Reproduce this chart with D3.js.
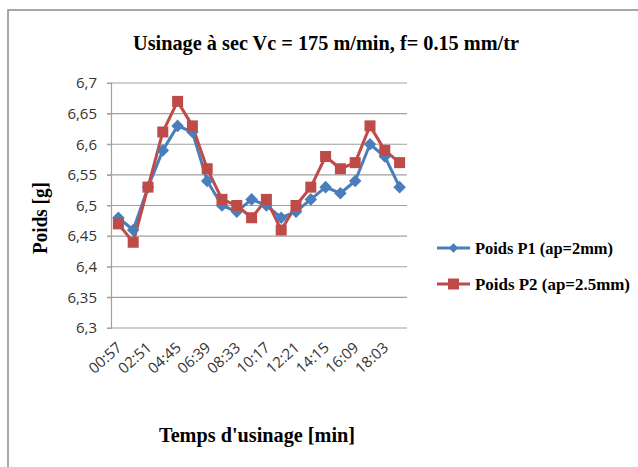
<!DOCTYPE html>
<html><head><meta charset="utf-8">
<script src="https://cdn.jsdelivr.net/npm/d3@7"></script>
<style>body{margin:0;background:#fff}svg{display:block}</style>
</head><body>
<script>
const categories = ["00:57","01:54","02:51","03:48","04:45","05:42","06:39","07:36","08:33","09:25",
  "10:17","11:19","12:21","13:18","14:15","15:12","16:09","17:06","18:03","19:00"];
const shownLabels = ["00:57","02:51","04:45","06:39","08:33","10:17","12:21","14:15","16:09","18:03"];
const p1 = [6.48,6.46,6.53,6.59,6.63,6.62,6.54,6.50,6.49,6.51,6.50,6.48,6.49,6.51,6.53,6.52,6.54,6.60,6.58,6.53];
const p2 = [6.47,6.44,6.53,6.62,6.67,6.63,6.56,6.51,6.50,6.48,6.51,6.46,6.50,6.53,6.58,6.56,6.57,6.63,6.59,6.57];
const yTicks = [6.3,6.35,6.4,6.45,6.5,6.55,6.6,6.65,6.7];
const seriesNames = ["Poids P1 (ap=2mm)","Poids P2 (ap=2.5mm)"];
const colors = ["#4A7EBB","#BE4B48"];

const W = 638, H = 467;
const svg = d3.select("body").append("svg").attr("width", W).attr("height", H);
svg.append("rect").attr("x",8).attr("y",10).attr("width",700).attr("height",600)
  .attr("fill","#fff").attr("stroke","#8c8c8c").attr("stroke-width",1.5);

const pL = 111, pR = 407, pT = 83, pB = 328;
const x = d3.scaleBand().domain(categories).range([pL, pR]);
const y = d3.scaleLinear().domain([6.3, 6.7]).range([pB, pT]);
const fmt = d => d3.format(".2~f")(d).replace(".", ",");

// gridlines
svg.append("g").selectAll("line").data(yTicks).join("line")
  .attr("x1", pL-4).attr("x2", pR).attr("y1", d=>y(d)).attr("y2", d=>y(d))
  .attr("stroke","#a0a0a0").attr("stroke-width",1.2);
// y axis
const ya = svg.append("g").attr("transform",`translate(${pL},0)`)
  .call(d3.axisLeft(y).tickValues(yTicks).tickFormat(fmt).tickSize(4).tickPadding(10));
ya.select(".domain").attr("stroke","#a0a0a0").attr("stroke-width",1.2);
ya.selectAll(".tick line").attr("stroke","#a0a0a0");
ya.selectAll("text").attr("font-family","Open Sans, sans-serif").attr("font-size",15).attr("fill","#333");

// x axis
const xa = svg.append("g").attr("transform",`translate(0,${pB})`)
  .call(d3.axisBottom(x).tickValues(shownLabels).tickSize(0));
xa.select(".domain").remove();
xa.selectAll("text").attr("font-family","Open Sans, sans-serif").attr("font-size",15).attr("fill","#333")
  .attr("text-anchor","end").attr("x",0).attr("y",0).attr("dy","0.35em")
  .attr("transform","translate(1,17) rotate(-42)");

const cx = d => x(d) + x.bandwidth()/2;
const line = d3.line().x((d,i)=>cx(categories[i])).y(d=>y(d));
[p1,p2].forEach((s,k)=>{
  svg.append("path").datum(s).attr("d", line).attr("fill","none")
    .attr("stroke", colors[k]).attr("stroke-width",3).attr("stroke-linejoin","round");
});
// markers
svg.append("g").selectAll("path").data(p1).join("path")
  .attr("d", d3.symbol(d3.symbolDiamond2, 100)())
  .attr("transform",(d,i)=>`translate(${cx(categories[i])},${y(d)})`)
  .attr("fill", colors[0]);
svg.append("g").selectAll("rect").data(p2).join("rect")
  .attr("x",(d,i)=>cx(categories[i])-5.5).attr("y",d=>y(d)-5.5)
  .attr("width",11).attr("height",11).attr("fill", colors[1]);

// title
svg.append("text").attr("x",326).attr("y",50).attr("text-anchor","middle")
  .attr("font-family","Liberation Serif, serif").attr("font-weight","bold").attr("font-size",22)
  .attr("textLength",386).attr("lengthAdjust","spacingAndGlyphs")
  .text("Usinage à sec Vc = 175 m/min, f= 0.15 mm/tr");
// axis titles
svg.append("text").attr("x",257).attr("y",442).attr("text-anchor","middle")
  .attr("font-family","Liberation Serif, serif").attr("font-weight","bold").attr("font-size",22)
  .attr("textLength",196).attr("lengthAdjust","spacingAndGlyphs")
  .text("Temps d'usinage [min]");
svg.append("text").attr("transform","translate(47,218) rotate(-90)").attr("text-anchor","middle")
  .attr("font-family","Liberation Serif, serif").attr("font-weight","bold").attr("font-size",20)
  .attr("textLength",72).attr("lengthAdjust","spacingAndGlyphs")
  .text("Poids [g]");

// legend
const lg = svg.append("g");
const legW = [138, 155];
seriesNames.forEach((n,k)=>{
  const ly = 248 + k*36;
  lg.append("line").attr("x1",437).attr("x2",470).attr("y1",ly).attr("y2",ly)
    .attr("stroke",colors[k]).attr("stroke-width",3);
  if(k===0) lg.append("path").attr("d", d3.symbol(d3.symbolDiamond2, 60)())
    .attr("transform",`translate(453.5,${ly})`).attr("fill",colors[0]);
  else lg.append("rect").attr("x",448).attr("y",ly-5.5).attr("width",11).attr("height",11).attr("fill",colors[1]);
  lg.append("text").attr("x",475).attr("y",ly+6).attr("font-family","Liberation Serif, serif")
    .attr("font-weight","bold").attr("font-size",17)
    .attr("textLength",legW[k]).attr("lengthAdjust","spacingAndGlyphs").text(n);
});
</script>
</body></html>
